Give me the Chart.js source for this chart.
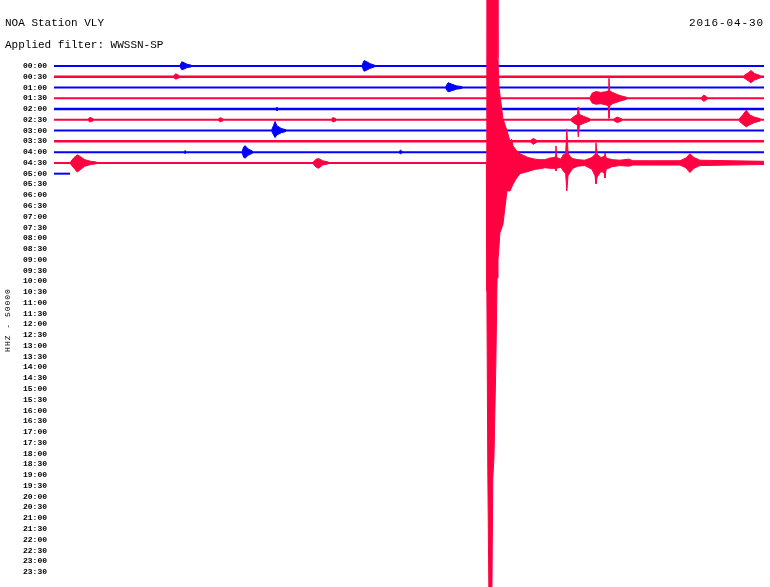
<!DOCTYPE html>
<html>
<head>
<meta charset="utf-8">
<title>NOA Station VLY</title>
<script src="https://cdn.jsdelivr.net/npm/chart.js@4"></script>
<style>
  body { margin: 0; background: #fff; }
  #wrap { position: relative; width: 770px; height: 587px; overflow: hidden; }
  .txt { position: absolute; font-family: 'Liberation Mono', monospace; color: #000; white-space: nowrap; }
</style>
</head>
<body>
<div id="wrap">
  <canvas id="heli"></canvas>
  <div class="txt" id="station" style="left:5px; top:18px; font-size:11px; line-height:11px;"></div>
  <div class="txt" id="filter" style="left:5px; top:40px; font-size:11px; line-height:11px;"></div>
  <div class="txt" id="day" style="right:6px; top:18px; font-size:11px; line-height:11px; letter-spacing:0.9px;"></div>
  <div class="txt" id="channel" style="left:-37px; top:315px; width:90px; height:10px; font-size:8px; line-height:10px; text-align:center; letter-spacing:1px; transform:rotate(-90deg);"></div>
</div>
<script>
const stationName = 'NOA Station VLY';
const filterName = 'WWSSN-SP';
const dayLabel = '2016-04-30';
const channelLabel = 'HHZ - 50000';

// one row = 30 minutes of record, x is the minute inside the row
const timeLabels = [
  '00:00', '00:30', '01:00', '01:30', '02:00', '02:30', '03:00', '03:30',
  '04:00', '04:30', '05:00', '05:30', '06:00', '06:30', '07:00', '07:30',
  '08:00', '08:30', '09:00', '09:30', '10:00', '10:30', '11:00', '11:30',
  '12:00', '12:30', '13:00', '13:30', '14:00', '14:30', '15:00', '15:30',
  '16:00', '16:30', '17:00', '17:30', '18:00', '18:30', '19:00', '19:30',
  '20:00', '20:30', '21:00', '21:30', '22:00', '22:30', '23:00', '23:30'
];

// minutes of data recorded in each row so far
const traceEnds = [30, 30, 30, 30, 30, 30, 30, 30, 30, 30, 0.68];

// signal envelopes: [minute, amplitude up, amplitude down] in row units
const ev0000 = [
  [[5.33, 0.08, 0.08], [5.40, 0.40, 0.35], [5.50, 0.30, 0.28], [5.62, 0.16, 0.15], [5.80, 0.08, 0.08]],
  [[13.02, 0.08, 0.08], [13.10, 0.50, 0.48], [13.20, 0.42, 0.40], [13.35, 0.22, 0.22], [13.55, 0.08, 0.08]]
];
const ev0030 = [
  [[5.05, 0.08, 0.08], [5.15, 0.28, 0.22], [5.30, 0.08, 0.08]],
  [[29.15, 0.10, 0.10], [29.35, 0.40, 0.40], [29.45, 0.58, 0.55], [29.60, 0.30, 0.30], [29.85, 0.10, 0.10]]
];
const ev0100 = [
  [[16.55, 0.08, 0.08], [16.65, 0.45, 0.40], [16.80, 0.32, 0.30], [17.00, 0.16, 0.15], [17.25, 0.08, 0.08]]
];
const ev0130 = [
  [[22.65, 0.10, 0.10], [22.75, 0.50, 0.45], [22.90, 0.62, 0.55], [23.10, 0.55, 0.50], [23.30, 0.60, 0.60],
   [23.42, 0.70, 0.70], [23.45, 1.86, 1.86], [23.48, 0.70, 0.70], [23.60, 0.55, 0.50], [23.80, 0.35, 0.35],
   [24.00, 0.20, 0.20], [24.20, 0.10, 0.10]],
  [[27.35, 0.08, 0.08], [27.46, 0.30, 0.28], [27.60, 0.08, 0.08]]
];
const ev0200 = [
  [[9.38, 0.05, 0.05], [9.42, 0.18, 0.18], [9.46, 0.05, 0.05]]
];
const ev0230 = [
  [[1.45, 0.08, 0.08], [1.52, 0.24, 0.20], [1.66, 0.08, 0.08]],
  [[6.95, 0.08, 0.08], [7.02, 0.20, 0.18], [7.15, 0.08, 0.08]],
  [[11.72, 0.08, 0.08], [11.79, 0.22, 0.20], [11.92, 0.08, 0.08]],
  [[21.85, 0.10, 0.10], [22.00, 0.35, 0.35], [22.12, 0.50, 0.50], [22.15, 1.20, 1.58], [22.20, 0.50, 0.50],
   [22.40, 0.30, 0.30], [22.65, 0.10, 0.10]],
  [[23.65, 0.08, 0.08], [23.80, 0.25, 0.25], [24.00, 0.08, 0.08]],
  [[28.95, 0.10, 0.10], [29.10, 0.45, 0.40], [29.25, 0.90, 0.65], [29.40, 0.45, 0.45], [29.60, 0.25, 0.25],
   [29.85, 0.10, 0.10]]
];
const ev0300 = [
  [[9.20, 0.08, 0.08], [9.28, 0.50, 0.40], [9.34, 0.85, 0.65], [9.42, 0.45, 0.40], [9.60, 0.20, 0.20], [9.80, 0.08, 0.08]]
];
const ev0330 = [
  [[20.15, 0.08, 0.08], [20.24, 0.28, 0.28], [20.40, 0.08, 0.08]]
];
const ev0400 = [
  [[5.50, 0.05, 0.05], [5.54, 0.15, 0.15], [5.58, 0.05, 0.05]],
  [[7.95, 0.08, 0.08], [8.02, 0.50, 0.50], [8.08, 0.60, 0.55], [8.20, 0.30, 0.30], [8.40, 0.08, 0.08]],
  [[14.58, 0.05, 0.05], [14.64, 0.18, 0.15], [14.72, 0.05, 0.05]]
];
const ev0430 = [
  [[0.70, 0.10, 0.10], [0.85, 0.50, 0.50], [0.98, 0.75, 0.85], [1.10, 0.60, 0.65], [1.30, 0.30, 0.30],
   [1.55, 0.15, 0.15], [1.80, 0.08, 0.08]],
  [[10.95, 0.08, 0.08], [11.08, 0.35, 0.40], [11.18, 0.40, 0.50], [11.35, 0.20, 0.20], [11.60, 0.08, 0.08]],
  // the big one and its coda
  [[18.27, 0.10, 0.10], [18.29, 18.6, 11.9], [18.33, 18.6, 28.6], [18.38, 18.6, 41.0], [18.50, 18.6, 41.0],
   [18.54, 18.6, 29.3], [18.59, 18.6, 27.4], [18.67, 18.6, 18.6], [18.72, 18.6, 10.7], [18.76, 9.7, 9.0],
   [18.80, 7.0, 7.9], [18.84, 6.4, 6.5], [18.97, 4.1, 5.7], [19.14, 3.0, 2.6], [19.27, 2.0, 2.6],
   [19.33, 2.2, 2.3], [19.39, 1.6, 2.0], [19.52, 1.2, 1.5], [19.69, 0.85, 1.0], [20.03, 0.50, 0.80],
   [20.32, 0.35, 0.60], [20.53, 0.30, 0.55], [20.74, 0.30, 0.45], [20.95, 0.45, 0.50], [21.13, 0.50, 0.50],
   [21.18, 0.60, 0.55], [21.21, 1.58, 0.74], [21.24, 0.50, 0.50], [21.42, 0.35, 0.40], [21.50, 0.70, 0.70],
   [21.62, 0.90, 1.00], [21.67, 3.16, 2.60], [21.72, 0.95, 1.20], [21.80, 0.60, 0.90], [21.92, 0.40, 0.50],
   [22.14, 0.30, 0.30], [22.43, 0.25, 0.25], [22.73, 0.50, 0.60], [22.86, 0.80, 1.20], [22.90, 1.86, 1.95],
   [22.95, 0.80, 1.30], [23.11, 0.50, 0.80], [23.24, 0.60, 0.90], [23.28, 0.93, 1.40], [23.33, 0.45, 0.60],
   [23.58, 0.30, 0.35], [23.91, 0.25, 0.25], [24.29, 0.35, 0.30], [24.46, 0.20, 0.20], [25.18, 0.20, 0.20],
   [26.45, 0.20, 0.20], [26.70, 0.45, 0.45], [26.87, 0.85, 0.90], [27.04, 0.50, 0.50], [27.29, 0.25, 0.25],
   [28.56, 0.20, 0.20], [30.00, 0.15, 0.15]]
];
const ev0500 = [];

const rowEvents = [ev0000, ev0030, ev0100, ev0130, ev0200, ev0230, ev0300, ev0330, ev0400, ev0430, ev0500];

// styling
const traceColors = ['#0000ff', '#ff0040'];
const traceWidths = [2, 2.5, 2, 2, 2.5, 2, 2, 2.5, 2, 2, 2];

document.getElementById('station').textContent = stationName;
document.getElementById('filter').textContent = 'Applied filter: ' + filterName;
document.getElementById('day').textContent = dayLabel;
document.getElementById('channel').textContent = channelLabel;

const datasets = [];

// events first so they sit on top of the plain traces
rowEvents.forEach((events, row) => {
  const color = traceColors[row % 2];
  events.forEach(env => {
    datasets.push({
      data: env.map(p => ({ x: p[0], y: row - p[1] })),
      borderColor: color,
      borderWidth: 1,
      pointRadius: 0,
      fill: false
    });
    datasets.push({
      data: env.map(p => ({ x: p[0], y: row + p[2] })),
      borderColor: color,
      backgroundColor: color,
      borderWidth: 1,
      pointRadius: 0,
      fill: '-1'
    });
  });
});

traceEnds.forEach((end, row) => {
  datasets.push({
    data: [{ x: 0, y: row }, { x: end, y: row }],
    borderColor: traceColors[row % 2],
    borderWidth: traceWidths[row],
    pointRadius: 0,
    fill: false
  });
});

const chart = new Chart(document.getElementById('heli'), {
  type: 'line',
  data: { datasets: datasets },
  options: {
    responsive: true,
    maintainAspectRatio: false,
    animation: false,
    events: [],
    layout: { padding: { left: 0, right: 6, top: 0, bottom: 0 } },
    plugins: {
      legend: { display: false },
      title: { display: false },
      tooltip: { enabled: false }
    },
    scales: {
      x: {
        type: 'linear',
        min: 0,
        max: 30,
        display: false
      },
      y: {
        type: 'linear',
        reverse: true,
        min: -6.13,
        max: 48.39,
        afterBuildTicks: scale => {
          scale.ticks = timeLabels.map((_, i) => ({ value: i }));
        },
        afterFit: scale => {
          scale.width = 54;
          scale.paddingTop = 0;
          scale.paddingBottom = 0;
        },
        grid: { display: false, drawTicks: false },
        border: { display: false },
        ticks: {
          autoSkip: false,
          padding: 7,
          color: '#000',
          font: { family: 'Liberation Mono', size: 8, weight: 'bold' },
          callback: value => timeLabels[value]
        }
      }
    }
  }
});
</script>
</body>
</html>
